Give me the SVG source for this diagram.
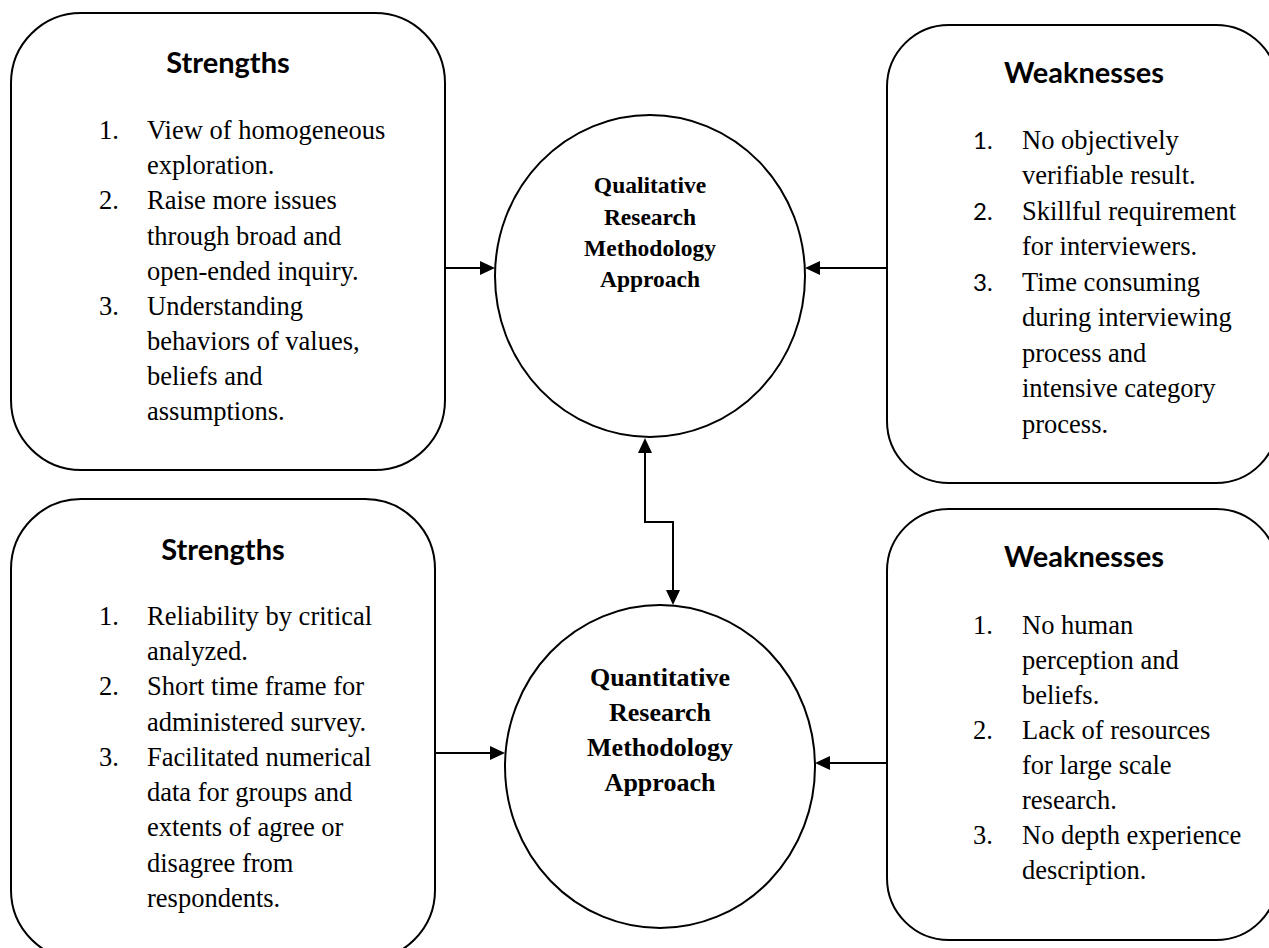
<svg xmlns="http://www.w3.org/2000/svg" width="1269" height="948" viewBox="0 0 1269 948">
<defs>
<style>
.box{fill:#fff;stroke:#000;stroke-width:2}
.circ{fill:#fff;stroke:#000;stroke-width:2}
.conn{fill:none;stroke:#000;stroke-width:2}
.head{font-family:Lato,"Open Sans",sans-serif;font-weight:bold;font-size:29px;text-anchor:middle;fill:#000}
.body{font-family:"Liberation Serif","Times New Roman",serif;font-size:26.5px;fill:#000}
.num{font-family:Lato,"Liberation Sans",sans-serif;font-size:24px;fill:#000}
.c1{font-family:"Liberation Serif","Times New Roman",serif;font-weight:bold;font-size:23.5px;text-anchor:middle;fill:#000}
.c2{font-family:"Liberation Serif","Times New Roman",serif;font-weight:bold;font-size:26px;text-anchor:middle;fill:#000}
</style>
<marker id="arr" viewBox="0 0 15 14" refX="0" refY="7" markerWidth="15" markerHeight="14" markerUnits="userSpaceOnUse" orient="auto-start-reverse">
<path d="M0,0 L15,7 L0,14 z" fill="#000"/>
</marker>
</defs>
<rect width="1269" height="948" fill="#fff"/>

<g id="connectors">
<line class="conn" x1="445" y1="268" x2="480" y2="268" marker-end="url(#arr)"/>
<line class="conn" x1="887" y1="268" x2="820" y2="268" marker-end="url(#arr)"/>
<line class="conn" x1="435" y1="753" x2="490" y2="753" marker-end="url(#arr)"/>
<line class="conn" x1="887" y1="763" x2="830" y2="763" marker-end="url(#arr)"/>
<path class="conn" d="M645,453 V522 H673 V590" marker-start="url(#arr)" marker-end="url(#arr)"/>
</g>

<g id="strengths-qual">
<rect class="box" x="11" y="13" width="434" height="457" rx="70" ry="70"/>
<text class="head" x="228" y="73">Strengths</text>
<text class="body" x="99" y="139">1.</text>
<text class="body" x="147" y="139">View of homogeneous</text>
<text class="body" x="147" y="174">exploration.</text>
<text class="body" x="99" y="209">2.</text>
<text class="body" x="147" y="209">Raise more issues</text>
<text class="body" x="147" y="245">through broad and</text>
<text class="body" x="147" y="280">open-ended inquiry.</text>
<text class="body" x="99" y="315">3.</text>
<text class="body" x="147" y="315">Understanding</text>
<text class="body" x="147" y="350">behaviors of values,</text>
<text class="body" x="147" y="385">beliefs and</text>
<text class="body" x="147" y="420">assumptions.</text>
</g>

<g id="weaknesses-qual">
<rect class="box" x="887" y="25" width="391" height="458" rx="62" ry="62"/>
<text class="head" x="1084" y="83">Weaknesses</text>
<text class="num" x="973" y="149">1.</text>
<text class="body" x="1022" y="149">No objectively</text>
<text class="body" x="1022" y="184">verifiable result.</text>
<text class="num" x="973" y="220">2.</text>
<text class="body" x="1022" y="220">Skillful requirement</text>
<text class="body" x="1022" y="255">for interviewers.</text>
<text class="num" x="973" y="291">3.</text>
<text class="body" x="1022" y="291">Time consuming</text>
<text class="body" x="1022" y="326">during interviewing</text>
<text class="body" x="1022" y="362">process and</text>
<text class="body" x="1022" y="397">intensive category</text>
<text class="body" x="1022" y="433">process.</text>
</g>

<g id="qualitative">
<ellipse class="circ" cx="650" cy="276" rx="155" ry="161"/>
<text class="c1" x="650" y="193">Qualitative</text>
<text class="c1" x="650" y="225">Research</text>
<text class="c1" x="650" y="256">Methodology</text>
<text class="c1" x="650" y="287">Approach</text>
</g>

<g id="strengths-quant">
<rect class="box" x="11" y="499" width="424" height="461" rx="70" ry="70"/>
<text class="head" x="223" y="560">Strengths</text>
<text class="body" x="99" y="625">1.</text>
<text class="body" x="147" y="625">Reliability by critical</text>
<text class="body" x="147" y="660">analyzed.</text>
<text class="body" x="99" y="695">2.</text>
<text class="body" x="147" y="695">Short time frame for</text>
<text class="body" x="147" y="731">administered survey.</text>
<text class="body" x="99" y="766">3.</text>
<text class="body" x="147" y="766">Facilitated numerical</text>
<text class="body" x="147" y="801">data for groups and</text>
<text class="body" x="147" y="836">extents of agree or</text>
<text class="body" x="147" y="872">disagree from</text>
<text class="body" x="147" y="907">respondents.</text>
</g>

<g id="weaknesses-quant">
<rect class="box" x="887" y="509" width="391" height="431" rx="62" ry="62"/>
<text class="head" x="1084" y="567">Weaknesses</text>
<text class="body" x="973" y="634">1.</text>
<text class="body" x="1022" y="634">No human</text>
<text class="body" x="1022" y="669">perception and</text>
<text class="body" x="1022" y="704">beliefs.</text>
<text class="body" x="973" y="739">2.</text>
<text class="body" x="1022" y="739">Lack of resources</text>
<text class="body" x="1022" y="774">for large scale</text>
<text class="body" x="1022" y="809">research.</text>
<text class="body" x="973" y="844">3.</text>
<text class="body" x="1022" y="844">No depth experience</text>
<text class="body" x="1022" y="879">description.</text>
</g>

<g id="quantitative">
<ellipse class="circ" cx="660" cy="766.5" rx="155" ry="161.5"/>
<text class="c2" x="660" y="686">Quantitative</text>
<text class="c2" x="660" y="721">Research</text>
<text class="c2" x="660" y="756">Methodology</text>
<text class="c2" x="660" y="791">Approach</text>
</g>
</svg>
